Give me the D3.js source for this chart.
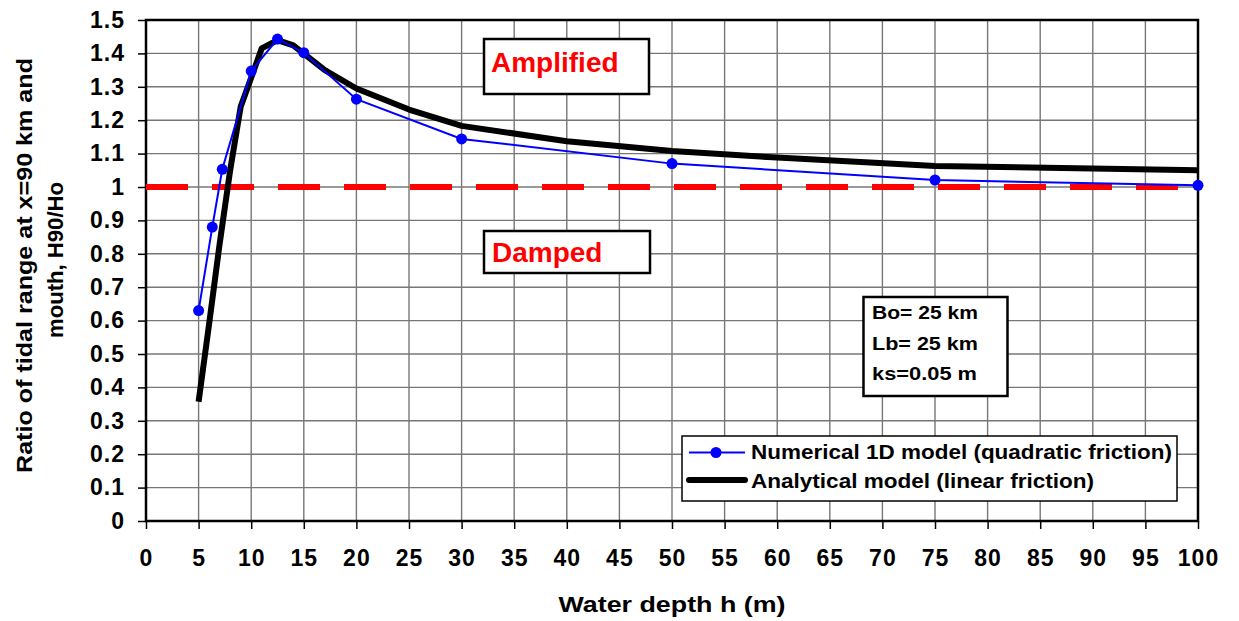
<!DOCTYPE html>
<html><head><meta charset="utf-8">
<script src="https://cdn.jsdelivr.net/npm/d3@7"></script>
<style>
body{margin:0;background:#fff;}
svg text{font-family:"Liberation Sans",Arial,sans-serif;font-weight:bold;}
</style></head>
<body><svg id="c" width="1239" height="621"></svg>
<script>
// Data
const xTicks = [0,5,10,15,20,25,30,35,40,45,50,55,60,65,70,75,80,85,90,95,100];
const yTicks = [0,0.1,0.2,0.3,0.4,0.5,0.6,0.7,0.8,0.9,1,1.1,1.2,1.3,1.4,1.5];
const numDepth = [5, 6.3, 7.25, 10, 12.5, 15, 20, 30, 50, 75, 100];
const numRatio = [0.63, 0.88, 1.053, 1.347, 1.443, 1.402, 1.263, 1.144, 1.07, 1.021, 1.005];
const anaDepth = [5, 6, 7, 8, 9, 11, 12.5, 14, 17, 20, 25, 30, 40, 50, 60, 75, 100];
const anaRatio = [0.357, 0.59, 0.83, 1.05, 1.24, 1.415, 1.44, 1.424, 1.35, 1.295, 1.232, 1.183, 1.137, 1.108, 1.088, 1.063, 1.05];
const refLevel = 1.0;
const seriesNames = ["Numerical 1D model (quadratic friction)", "Analytical model (linear friction)"];
const params = ["Bo= 25 km", "Lb= 25 km", "ks=0.05 m"];

const svg = d3.select("#c");
const x = d3.scaleLinear().domain([0,100]).range([146,1198]);
const y = d3.scaleLinear().domain([0,1.5]).range([521,20]);

// grid
const g = svg.append("g");
g.selectAll("line.vx").data(xTicks.filter(d=>d>0&&d<100)).enter().append("line")
  .attr("x1",d=>x(d)).attr("x2",d=>x(d)).attr("y1",y(0)).attr("y2",y(1.5))
  .attr("stroke","#777").attr("stroke-width",1.4);
g.selectAll("line.hy").data(yTicks.filter(d=>d>0&&d<1.5)).enter().append("line")
  .attr("y1",d=>y(d)).attr("y2",d=>y(d)).attr("x1",x(0)).attr("x2",x(100))
  .attr("stroke","#777").attr("stroke-width",1.4);

// axes
const ax = svg.append("g").attr("transform",`translate(0,${y(0)})`)
  .call(d3.axisBottom(x).tickValues(xTicks).tickSize(8).tickPadding(21).tickFormat(d3.format("d")));
ax.select(".domain").remove();
ax.selectAll("line").attr("stroke","#000").attr("stroke-width",1.5);
ax.selectAll("text").attr("font-size",23).attr("fill","#000").attr("letter-spacing",1);

const ay = svg.append("g").attr("transform",`translate(${x(0)},0)`)
  .call(d3.axisLeft(y).tickValues(yTicks).tickSize(8).tickPadding(13).tickFormat(d=>d3.format("")(+d.toFixed(1))));
ay.select(".domain").remove();
ay.selectAll("line").attr("stroke","#000").attr("stroke-width",1.5);
ay.selectAll("text").attr("font-size",23).attr("fill","#000").attr("letter-spacing",1);

// frame
svg.append("rect").attr("x",x(0)).attr("y",y(1.5)).attr("width",x(100)-x(0)).attr("height",y(0)-y(1.5))
  .attr("fill","none").attr("stroke","#000").attr("stroke-width",2.5);

// reference dashed line
svg.append("line").attr("x1",x(0)).attr("x2",x(100)).attr("y1",y(refLevel)).attr("y2",y(refLevel))
  .attr("stroke","#ff0000").attr("stroke-width",6).attr("stroke-dasharray","42,24");

// analytical
const anaData = anaDepth.map((d,i)=>[d,anaRatio[i]]);
svg.append("path").datum(anaData).attr("fill","none").attr("stroke","#000").attr("stroke-width",6)
  .attr("stroke-linejoin","round").attr("d",d3.line().x(d=>x(d[0])).y(d=>y(d[1])));

// numerical
const numData = numDepth.map((d,i)=>[d,numRatio[i]]);
svg.append("path").datum(numData).attr("fill","none").attr("stroke","#0000ff").attr("stroke-width",2)
  .attr("d",d3.line().x(d=>x(d[0])).y(d=>y(d[1])));
svg.selectAll("circle.n").data(numData).enter().append("circle")
  .attr("cx",d=>x(d[0])).attr("cy",d=>y(d[1])).attr("r",5.5).attr("fill","#0000ff");

// annotation boxes
function labelBox(x0,y0,w,h,txt,tx,ty){
  svg.append("rect").attr("x",x0).attr("y",y0).attr("width",w).attr("height",h)
    .attr("fill","#fff").attr("stroke","#000").attr("stroke-width",2.5);
  svg.append("text").attr("x",tx).attr("y",ty).attr("fill","#ff0000").attr("font-size",28).text(txt);
}
labelBox(484,39,165,55,"Amplified",491,72);
labelBox(484,231,166,42,"Damped",492,262);

// params box
svg.append("rect").attr("x",863.5).attr("y",297).attr("width",144).attr("height",99)
  .attr("fill","#fff").attr("stroke","#000").attr("stroke-width",2.5);
const pw = [106, 106, 105];
params.forEach((t,i)=>svg.append("text").attr("x",872).attr("y",319+i*30.5).attr("font-size",17.5)
  .attr("textLength",pw[i]).attr("lengthAdjust","spacingAndGlyphs").attr("fill","#000").text(t));

// legend
svg.append("rect").attr("x",682).attr("y",436).attr("width",495).attr("height",65)
  .attr("fill","#fff").attr("stroke","#000").attr("stroke-width",1.5);
svg.append("line").attr("x1",689).attr("x2",745).attr("y1",452.5).attr("y2",452.5).attr("stroke","#0000ff").attr("stroke-width",2);
svg.append("circle").attr("cx",716).attr("cy",452.5).attr("r",5.5).attr("fill","#0000ff");
svg.append("line").attr("x1",689).attr("x2",745).attr("y1",480).attr("y2",480).attr("stroke","#000").attr("stroke-width",6).attr("stroke-linecap","round");
svg.append("text").attr("x",751).attr("y",458.5).attr("font-size",21).attr("textLength",421).attr("lengthAdjust","spacingAndGlyphs").attr("fill","#000").text(seriesNames[0]);
svg.append("text").attr("x",751).attr("y",488).attr("font-size",21).attr("textLength",343).attr("lengthAdjust","spacingAndGlyphs").attr("fill","#000").text(seriesNames[1]);

// axis titles
svg.append("text").attr("x",672).attr("y",612).attr("text-anchor","middle").attr("font-size",22)
  .attr("textLength",227).attr("lengthAdjust","spacingAndGlyphs").attr("fill","#000").text("Water depth h (m)");
const yt = svg.append("g").attr("transform","translate(0,0) rotate(-90)");
yt.append("text").attr("x",-265.5).attr("y",32).attr("text-anchor","middle").attr("font-size",22)
  .attr("textLength",415).attr("lengthAdjust","spacingAndGlyphs").attr("fill","#000").text("Ratio of tidal range at x=90 km and");
yt.append("text").attr("x",-260).attr("y",63).attr("text-anchor","middle").attr("font-size",22)
  .attr("textLength",156).attr("lengthAdjust","spacingAndGlyphs").attr("fill","#000").text("mouth, H90/Ho");
</script></body></html>
